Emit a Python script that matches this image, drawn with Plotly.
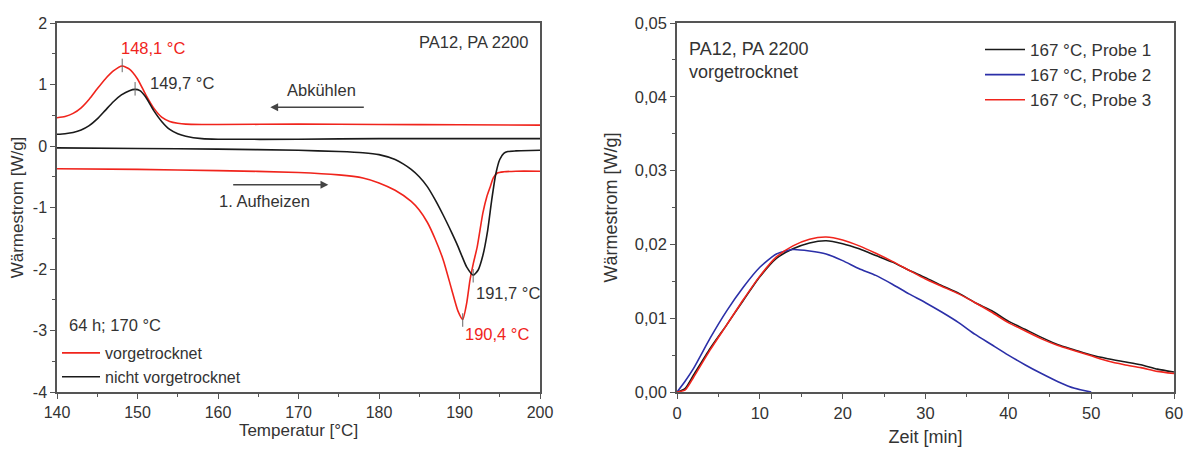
import plotly.graph_objects as go

# ---------------- Left chart: DSC curves ----------------
T_cool_red = [140, 141, 142, 143, 144, 145, 146, 147, 148.1, 149, 150, 151, 152, 153, 154, 155, 156, 158, 160, 170, 180, 190, 200]
Q_cool_red = [0.46, 0.48, 0.53, 0.62, 0.76, 0.93, 1.09, 1.22, 1.30, 1.25, 1.09, 0.84, 0.62, 0.47, 0.40, 0.37, 0.355, 0.35, 0.35, 0.355, 0.35, 0.345, 0.34]

T_cool_blk = [140, 141, 142, 143, 144, 145, 146, 147, 148, 149, 149.7, 150.3, 151, 152, 153, 154, 155, 156, 158, 160, 170, 180, 200]
Q_cool_blk = [0.19, 0.20, 0.22, 0.26, 0.33, 0.44, 0.58, 0.72, 0.83, 0.90, 0.92, 0.90, 0.80, 0.58, 0.40, 0.27, 0.20, 0.16, 0.12, 0.11, 0.11, 0.12, 0.12]

T_heat_blk = [140, 150, 160, 170, 175, 178, 180, 182, 183, 184, 185, 186, 187, 188, 189, 189.7, 190.3, 190.9, 191.7, 192.3, 192.9, 193.5, 194.0, 194.5, 195.0, 195.5, 196, 197, 200]
Q_heat_blk = [-0.03, -0.04, -0.05, -0.07, -0.09, -0.11, -0.14, -0.22, -0.29, -0.38, -0.50, -0.66, -0.88, -1.13, -1.40, -1.60, -1.79, -1.97, -2.10, -2.02, -1.78, -1.37, -0.88, -0.46, -0.22, -0.12, -0.09, -0.08, -0.07]

T_heat_red = [140, 150, 160, 170, 175, 178, 180, 182, 184, 185, 186, 187, 188, 189, 189.8, 190.4, 190.9, 191.3, 191.7, 192.2, 192.9, 193.4, 193.8, 194.2, 194.7, 195.5, 197, 200]
Q_heat_red = [-0.37, -0.38, -0.40, -0.43, -0.47, -0.52, -0.60, -0.72, -0.90, -1.04, -1.24, -1.52, -1.86, -2.32, -2.68, -2.82, -2.55, -2.18, -1.92, -1.64, -1.09, -0.82, -0.67, -0.52, -0.44, -0.42, -0.41, -0.41]

# peak markers
peaks_T = [148.1, 149.7, 191.7, 190.4]
peaks_Q = [1.30, 0.92, -2.10, -2.82]
peak_dir = [1, 1, -1, -1]

left_xticks = [140, 150, 160, 170, 180, 190, 200]
left_yticks = [2, 1, 0, -1, -2, -3, -4]
left_yticktext = ["2", "1", "0", "-1", "-2", "-3", "-4"]

# ---------------- Right chart: isothermal heat flow ----------------
t_min = [0, 1, 2, 4, 6, 8, 10, 12, 14, 16, 18, 20, 22, 24, 26, 28, 30, 32, 34, 36, 38, 40, 42, 44, 46, 48, 50, 52, 54, 56, 58, 60]
probe1 = [0.0, 0.0005, 0.0023, 0.0059, 0.0091, 0.0124, 0.0156, 0.0181, 0.0194, 0.0202, 0.0205, 0.0201, 0.0194, 0.0185, 0.0176, 0.0165, 0.0155, 0.0144, 0.0134, 0.0121, 0.0110, 0.0096, 0.0085, 0.0074, 0.0064, 0.0057, 0.0050, 0.0045, 0.0041, 0.0037, 0.0031, 0.0027]
probe3 = [0.0, 0.0003, 0.0020, 0.0057, 0.0091, 0.0125, 0.0157, 0.0183, 0.0198, 0.0207, 0.0210, 0.0206, 0.0198, 0.0188, 0.0177, 0.0165, 0.0153, 0.0143, 0.0133, 0.0121, 0.0108, 0.0094, 0.0083, 0.0072, 0.0063, 0.0056, 0.0049, 0.0042, 0.0037, 0.0033, 0.0028, 0.0025]
t_min2 = [0, 1, 2, 4, 6, 8, 10, 12, 14, 16, 18, 20, 22, 24, 26, 28, 30, 32, 34, 36, 38, 40, 42, 44, 46, 48, 50]
probe2 = [0.0, 0.0015, 0.0032, 0.0073, 0.0110, 0.0142, 0.0169, 0.0187, 0.0193, 0.0191, 0.0187, 0.0178, 0.0167, 0.0158, 0.0146, 0.0133, 0.0121, 0.0108, 0.0094, 0.0078, 0.0064, 0.0050, 0.0037, 0.0025, 0.0014, 0.0005, 0.0]

right_xticks = [0, 10, 20, 30, 40, 50, 60]
right_yticks = [0, 0.01, 0.02, 0.03, 0.04, 0.05]

RED = "#f0241c"
BLACK = "#1a1a1a"
BLUE = "#2b2fa8"
TXT = "#333333"
AX = "#555555"
FONT = "Liberation Sans, Arial, sans-serif"

# page body has an 8px margin: figure sits at window (8, 8)
OFF = 8
W, H = 1191 - OFF, 450 - OFF
def px(x):
    return (x - OFF) / W
def py(y):
    return (450 - y) / H

fig = go.Figure()

def add(x, y, color, name, xa, ya, show, legend):
    fig.add_trace(go.Scatter(x=x, y=y, mode="lines", name=name,
                             line=dict(color=color, width=1.6, shape="spline", smoothing=0.6),
                             xaxis=xa, yaxis=ya, showlegend=show, legend=legend,
                             legendgroup=name, hoverinfo="skip"))

add(T_cool_red, Q_cool_red, RED, "vorgetrocknet", "x", "y", True, "legend")
add(T_heat_red, Q_heat_red, RED, "vorgetrocknet", "x", "y", False, "legend")
add(T_cool_blk, Q_cool_blk, BLACK, "nicht vorgetrocknet", "x", "y", True, "legend")
add(T_heat_blk, Q_heat_blk, BLACK, "nicht vorgetrocknet", "x", "y", False, "legend")

add(t_min, probe1, BLACK, "167 °C, Probe 1", "x2", "y2", True, "legend2")
add(t_min2, probe2, BLUE, "167 °C, Probe 2", "x2", "y2", True, "legend2")
add(t_min, probe3, RED, "167 °C, Probe 3", "x2", "y2", True, "legend2")

# peak tick marks
for T, Q, d in zip(peaks_T, peaks_Q, peak_dir):
    fig.add_shape(type="line", xref="x", yref="y", x0=T, x1=T,
                  y0=Q - 0.1 * d, y1=Q + 0.12 * d, line=dict(color="#666666", width=1))

def axis(tsize, title, tsz, standoff, dom, rng, tickvals, mdt, anchor, **kw):
    return dict(domain=dom, range=rng, tickvals=tickvals, anchor=anchor,
                showline=True, linecolor=AX, linewidth=1.5, mirror=True,
                ticks="outside", ticklen=5, tickwidth=1, tickcolor=AX,
                showgrid=False, zeroline=False, automargin=False,
                tickfont=dict(family=FONT, size=tsize, color=TXT),
                minor=dict(dtick=mdt, ticks="outside", ticklen=3, tickcolor=AX, tickwidth=1),
                title=dict(text=title, standoff=standoff, font=dict(family=FONT, size=tsz, color=TXT)),
                **kw)

dom_y = [py(392), py(23)]
fig.update_layout(
    template="none",
    width=W, height=H,
    margin=dict(l=0, r=0, t=0, b=0, pad=0),
    paper_bgcolor="white", plot_bgcolor="white",
    separators=",.",
    font=dict(family=FONT, size=13, color=TXT),
    xaxis=axis(16, "Temperatur [°C]", 17, 2, [px(57), px(540)], [140, 200], left_xticks, 5, "y"),
    yaxis=axis(16, "Wärmestrom [W/g]", 17, 10, dom_y, [-4, 2], left_yticks, 0.5, "x", ticktext=left_yticktext),
    xaxis2=axis(16.5, "Zeit [min]", 18, 10, [px(677), px(1174)], [0, 60], right_xticks, 5, "y2"),
    yaxis2=axis(16.5, "Wärmestrom [W/g]", 18, 13, dom_y, [0, 0.05], right_yticks, 0.005, "x2", tickformat=".2f"),
    legend=dict(x=px(57), y=py(336), xanchor="left", yanchor="top",
                bgcolor="rgba(0,0,0,0)", font=dict(family=FONT, size=16, color=TXT),
                itemwidth=38, tracegroupgap=0, traceorder="normal"),
    legend2=dict(x=px(980), y=py(32), xanchor="left", yanchor="top",
                 bgcolor="rgba(0,0,0,0)", font=dict(family=FONT, size=17, color=TXT),
                 itemwidth=40, tracegroupgap=0, traceorder="normal"),
)

ann = [
    dict(x=151.9, y=1.59, text="148,1 °C", font=dict(color=RED), xanchor="center"),
    dict(x=151.3, y=1.02, text="149,7 °C", xanchor="left"),
    dict(x=198.8, y=1.69, text="PA12, PA 2200", xanchor="right"),
    dict(x=172.8, y=0.91, text="Abkühlen", xanchor="center"),
    dict(x=165.8, y=-0.89, text="1. Aufheizen", xanchor="center"),
    dict(x=191.8, y=-2.39, text="191,7 °C", xanchor="left"),
    dict(x=190.4, y=-3.05, text="190,4 °C", font=dict(color=RED), xanchor="left"),
    dict(x=141.2, y=-2.91, text="64 h; 170 °C", xanchor="left"),
]
for a in ann:
    f = dict(family=FONT, size=16.5, color=TXT)
    f.update(a.pop("font", {}))
    fig.add_annotation(xref="x", yref="y", showarrow=False, yanchor="middle", font=f, **a)

for txt, yy in [("PA12, PA 2200", 0.0465), ("vorgetrocknet", 0.0433)]:
    fig.add_annotation(xref="x2", yref="y2", x=1.2, y=yy, text=txt, showarrow=False,
                       xanchor="left", yanchor="middle", font=dict(family=FONT, size=18, color=TXT))

# arrows
fig.add_annotation(xref="x", yref="y", axref="x", ayref="y", x=166.5, y=0.63, ax=178.3, ay=0.63,
                   text="", showarrow=True, arrowhead=2, arrowsize=1.2, arrowwidth=1.3, arrowcolor="#444444")
fig.add_annotation(xref="x", yref="y", axref="x", ayref="y", x=173.7, y=-0.63, ax=161.7, ay=-0.63,
                   text="", showarrow=True, arrowhead=2, arrowsize=1.2, arrowwidth=1.3, arrowcolor="#444444")

fig.write_html("out.html")
